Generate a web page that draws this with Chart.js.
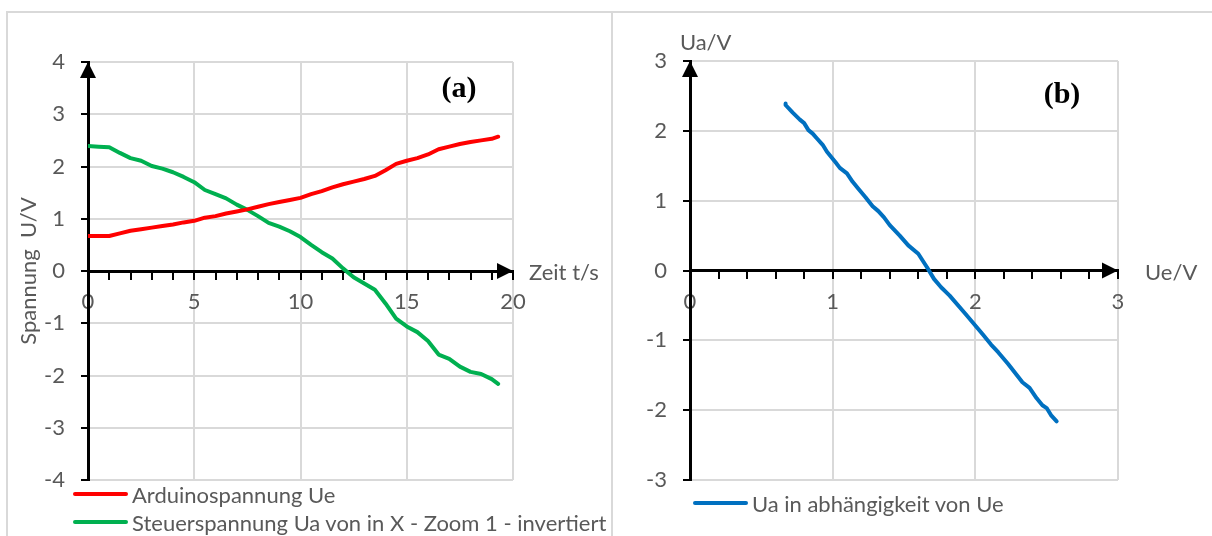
<!DOCTYPE html>
<html>
<head>
<meta charset="utf-8">
<script src="https://cdn.jsdelivr.net/npm/chart.js@4.4.1/dist/chart.umd.min.js"></script>
<style>
  body { margin: 0; background: #fff; font-family: Lato, sans-serif; }
  #page { position: relative; width: 1212px; height: 536px; overflow: hidden; }
  .frame { position: absolute; background: #d9d9d9; }
  .panel { position: absolute; top: 0; height: 536px; }
  #panelA { left: 0; width: 612px; }
  #panelB { left: 612px; width: 600px; }
  .legend { position: absolute; font-size: 22px; color: #595959; }
  .legend .item { display: flex; align-items: center; height: 28px; white-space: nowrap; }
  .legend .swatch { display: inline-block; width: 55px; height: 4px; margin-right: 4px; border-radius: 2px; }
</style>
</head>
<body>
<div id="page">
  <div class="frame" style="left:7px;top:11px;width:1205px;height:2px"></div>
  <div class="frame" style="left:6px;top:11px;width:2px;height:525px"></div>
  <div class="frame" style="left:611px;top:11px;width:2px;height:525px"></div>

  <div class="panel" id="panelA">
    <canvas id="chart-a" width="612" height="536"></canvas>
    <div class="legend" style="left:73px;top:480px">
      <div class="item"><span class="swatch" style="background:#ff0000"></span>Arduinospannung Ue</div>
      <div class="item"><span class="swatch" style="background:#00b050"></span>Steuerspannung Ua von in X - Zoom 1 - invertiert</div>
    </div>
  </div>

  <div class="panel" id="panelB">
    <canvas id="chart-b" width="600" height="536"></canvas>
    <div class="legend" style="left:81px;top:489px">
      <div class="item"><span class="swatch" style="background:#0070c0"></span>Ua in abhängigkeit von Ue</div>
    </div>
  </div>
</div>

<script>
// Measured samples (time in s, voltages in V)
const timeS = [0, 0.5, 1, 1.5, 2, 2.5, 3, 3.5, 4, 4.5, 5, 5.5, 6, 6.5, 7, 7.5, 8, 8.5, 9, 9.5,
  10, 10.5, 11, 11.5, 12, 12.5, 13, 13.5, 14, 14.5, 15, 15.5, 16, 16.5, 17, 17.5, 18, 18.5, 19, 19.3];

const ueValues = [0.67, 0.67, 0.67, 0.72, 0.77, 0.80, 0.83, 0.86, 0.89, 0.93, 0.96, 1.02, 1.05, 1.10, 1.14, 1.18, 1.23, 1.28, 1.32, 1.36,
  1.40, 1.47, 1.53, 1.60, 1.66, 1.71, 1.76, 1.82, 1.93, 2.05, 2.11, 2.16, 2.23, 2.33, 2.38, 2.43, 2.47, 2.50, 2.53, 2.57];

const uaValues = [2.39, 2.38, 2.37, 2.26, 2.16, 2.11, 2.01, 1.96, 1.89, 1.80, 1.70, 1.55, 1.47, 1.39, 1.27, 1.17, 1.05, 0.92, 0.85, 0.76,
  0.65, 0.50, 0.36, 0.24, 0.05, -0.12, -0.24, -0.36, -0.62, -0.91, -1.06, -1.17, -1.34, -1.60, -1.68, -1.83, -1.93, -1.97, -2.07, -2.16];

// Labelled ticks
const timeLabels = [0, 5, 10, 15, 20];
const ueLabels = [0, 1, 2, 3];

const GRID = '#d9d9d9';
const TEXT = '#595959';
const FONT = 'Lato';

Chart.defaults.font.family = FONT;
Chart.defaults.font.size = 22;
Chart.defaults.color = TEXT;

function isLabelled(list, v) {
  return list.some(l => Math.abs(l - v) < 1e-6);
}

// arrows, axis names and the (a)/(b) tags
const axisDecor = {
  id: 'axisDecor',
  afterDraw(chart, args, opts) {
    const { ctx, chartArea: a, scales } = chart;
    const y0 = scales.y.getPixelForValue(0);
    ctx.save();
    ctx.fillStyle = '#000';
    ctx.beginPath();
    ctx.moveTo(a.left, a.top);
    ctx.lineTo(a.left - 8, a.top + 16);
    ctx.lineTo(a.left + 8, a.top + 16);
    ctx.closePath();
    ctx.fill();
    ctx.beginPath();
    ctx.moveTo(a.right, y0);
    ctx.lineTo(a.right - 16, y0 - 8);
    ctx.lineTo(a.right - 16, y0 + 8);
    ctx.closePath();
    ctx.fill();

    ctx.font = `22px ${FONT}`;
    ctx.fillStyle = TEXT;
    ctx.textBaseline = 'middle';
    ctx.textAlign = 'left';
    ctx.fillText(opts.xTitle, a.right + opts.xTitleGap, y0 + 2);
    if (opts.yTitle) ctx.fillText(opts.yTitle, a.left - 10, a.top - 18);

    ctx.font = 'bold 30px "Liberation Serif"';
    ctx.fillStyle = '#000';
    ctx.textAlign = 'center';
    ctx.fillText(opts.tag, a.right + opts.tagX, a.top + opts.tagY);
    ctx.restore();
  }
};

function xScale(min, max, step, labels) {
  return {
    type: 'linear',
    min, max,
    position: { y: 0 },
    grid: {
      color: c => isLabelled(labels, c.tick.value) ? GRID : 'transparent',
      lineWidth: 2,
      tickColor: '#000',
      tickWidth: 2,
      tickLength: 7
    },
    border: { color: '#000', width: 3 },
    ticks: {
      stepSize: step,
      autoSkip: false,
      maxRotation: 0,
      padding: 11,
      color: TEXT,
      callback: v => isLabelled(labels, v) ? String(Math.round(v)) : ''
    }
  };
}

function yScale(min, max, width, title) {
  return {
    type: 'linear',
    position: 'left',
    min, max,
    afterFit: s => { s.width = width; },
    grid: { color: GRID, lineWidth: 2, tickColor: '#000', tickWidth: 2, tickLength: 7 },
    border: { color: '#000', width: 3 },
    ticks: { stepSize: 1, padding: 16, color: TEXT },
    title: title
      ? { display: true, text: title, color: TEXT, font: { size: 22 }, padding: { top: 4, bottom: 0 } }
      : { display: false }
  };
}

const baseOpts = {
  responsive: false,
  animation: false,
  events: [],
  elements: { point: { radius: 0 }, line: { tension: 0, borderWidth: 4, borderCapStyle: 'round', borderJoinStyle: 'round' } }
};

new Chart(document.getElementById('chart-a'), {
  type: 'line',
  data: {
    datasets: [
      { label: 'Arduinospannung Ue', data: timeS.map((t, i) => ({ x: t, y: ueValues[i] })), borderColor: '#ff0000' },
      { label: 'Steuerspannung Ua von in X - Zoom 1 - invertiert', data: timeS.map((t, i) => ({ x: t, y: uaValues[i] })), borderColor: '#00b050' }
    ]
  },
  options: {
    ...baseOpts,
    layout: { padding: { left: 12, right: 99, top: 62, bottom: 56 } },
    scales: { x: xScale(0, 20, 1, timeLabels), y: yScale(-4, 4, 76, 'Spannung  U/V') },
    plugins: {
      legend: { display: false },
      tooltip: { enabled: false },
      axisDecor: { xTitle: 'Zeit t/s', xTitleGap: 16, tag: '(a)', tagX: -54, tagY: 27 }
    }
  },
  plugins: [axisDecor]
});

new Chart(document.getElementById('chart-b'), {
  type: 'line',
  data: {
    datasets: [
      { label: 'Ua in abhängigkeit von Ue', data: ueValues.map((u, i) => ({ x: u, y: uaValues[i] })), borderColor: '#0070c0' }
    ]
  },
  options: {
    ...baseOpts,
    layout: { padding: { left: 0, right: 94, top: 61, bottom: 56 } },
    scales: { x: xScale(0, 3, 0.2, ueLabels), y: yScale(-3, 3, 78, null) },
    plugins: {
      legend: { display: false },
      tooltip: { enabled: false },
      axisDecor: { xTitle: 'Ue/V', yTitle: 'Ua/V', xTitleGap: 27, tag: '(b)', tagX: -56, tagY: 34 }
    }
  },
  plugins: [axisDecor]
});
</script>
</body>
</html>
